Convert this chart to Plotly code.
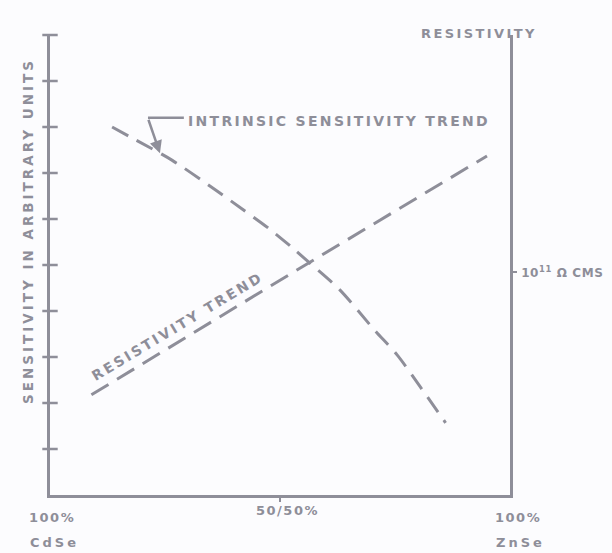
import plotly.graph_objects as go

# Composition runs from pure CdSe (0 % ZnSe) to pure ZnSe (100 % ZnSe)
sens_x = [13.5, 17.5, 26.5, 36, 42, 47.5, 52.5, 56.5, 63, 70.5, 75.5, 80.5, 86]
sens_y = [8.0, 7.78, 7.28, 6.63, 6.2, 5.8, 5.39, 5.04, 4.46, 3.59, 3.04, 2.35, 1.57]

# Resistivity trend, plotted as log10(ohm-cm) on the right-hand scale
res_x = [9, 52.8, 95]
res_log = [9.35, 11.0, 12.57]

sens_ticks = list(range(1, 11))
res_tick_vals = [11]
res_tick_text = ["10<sup>11</sup> Ω CMS"]

comp_ticks = [0, 50, 100]
comp_top = ["100%", "50/50%", "100%"]
comp_bottom = ["CdSe", "", "ZnSe"]

INK = "#8e8e99"
BG = "#fcfcfe"
FONT = "DejaVu Sans"


def spaced(text, px):
    return f'<span style="letter-spacing:{px}px">{text}</span>'


def label_font(size=13):
    return dict(family=FONT, size=size, color=INK, weight="bold")


fig = go.Figure()

fig.add_trace(go.Scatter(
    x=sens_x, y=sens_y, mode="lines",
    line=dict(color=INK, width=3, dash="18px,10px", shape="spline", smoothing=0.8),
    hoverinfo="skip", showlegend=False,
))

fig.add_trace(go.Scatter(
    x=res_x, y=res_log, mode="lines", yaxis="y2",
    line=dict(color=INK, width=3, dash="20px,10px"),
    hoverinfo="skip", showlegend=False,
))

# cross ticks on the sensitivity axis
fig.add_trace(go.Scatter(
    x=[0] * len(sens_ticks), y=sens_ticks, mode="markers",
    marker=dict(symbol="line-ew", size=11, line=dict(color=INK, width=2.5)),
    cliponaxis=False, hoverinfo="skip", showlegend=False,
))

annotations = []
top_shift = {0: (2, -22), 50: (7, -15), 100: (8, -22)}
for v, top, bottom in zip(comp_ticks, comp_top, comp_bottom):
    xs, ys = top_shift[v]
    annotations.append(dict(
        x=v, y=0, xref="x", yref="paper", text=spaced(top, 1.5),
        showarrow=False, xanchor="center", yanchor="middle",
        xshift=xs, yshift=ys, font=label_font(13),
    ))
    if bottom:
        annotations.append(dict(
            x=v, y=0, xref="x", yref="paper", text=spaced(bottom, 3),
            showarrow=False, xanchor="center", yanchor="middle",
            xshift=xs + 2, yshift=-47, font=label_font(13),
        ))

annotations += [
    dict(x=29.5, y=8.13, xref="x", yref="y",
         text=spaced("INTRINSIC SENSITIVITY TREND", 2.3),
         showarrow=False, xanchor="left", yanchor="middle", font=label_font(14)),
    dict(x=23.9, y=7.43, xref="x", yref="y", text="", showarrow=True,
         ax=-12, ay=-35, arrowhead=2, arrowsize=1, arrowwidth=2.5, arrowcolor=INK),
    dict(x=27.8, y=3.67, xref="x", yref="y",
         text=spaced("RESISTIVITY TREND", 2.5), textangle=-31,
         showarrow=False, font=label_font(14)),
    dict(x=-0.0696, y=0.574, xref="paper", yref="paper",
         text=spaced("SENSITIVITY IN ARBITRARY UNITS", 3), textangle=-90,
         showarrow=False, font=label_font(13.5)),
    dict(x=1.063, y=1.024, xref="paper", yref="paper",
         text=spaced("RESISTIVITY", 2.4),
         showarrow=False, font=label_font(13)),
]

fig.update_layout(
    width=612, height=553,
    margin=dict(l=50, r=102, t=35, b=58, autoexpand=False),
    paper_bgcolor=BG, plot_bgcolor=BG,
    xaxis=dict(range=[0, 100], showline=True, linewidth=3, linecolor=INK,
               showgrid=False, zeroline=False, tickvals=[50], ticks="outside",
               ticklen=4, tickwidth=2, tickcolor=INK, showticklabels=False,
               automargin=False),
    yaxis=dict(range=[0, 10], showline=True, linewidth=3, linecolor=INK,
               showgrid=False, zeroline=False, showticklabels=False, ticks="",
               automargin=False),
    yaxis2=dict(range=[8, 14.2], overlaying="y", side="right", showline=True,
                linewidth=2.5, linecolor=INK, showgrid=False, zeroline=False,
                tickvals=res_tick_vals,
                ticktext=[spaced(t, 0.6) for t in res_tick_text],
                ticks="outside", ticklen=4, tickwidth=2, tickcolor=INK,
                ticklabelstandoff=2, tickfont=label_font(12), automargin=False),
    annotations=annotations,
    shapes=[dict(type="line", xref="x", yref="y", x0=21.3, x1=29.1, y0=8.2, y1=8.2,
                 line=dict(color=INK, width=2.5))],
)

fig.write_html("out.html")
